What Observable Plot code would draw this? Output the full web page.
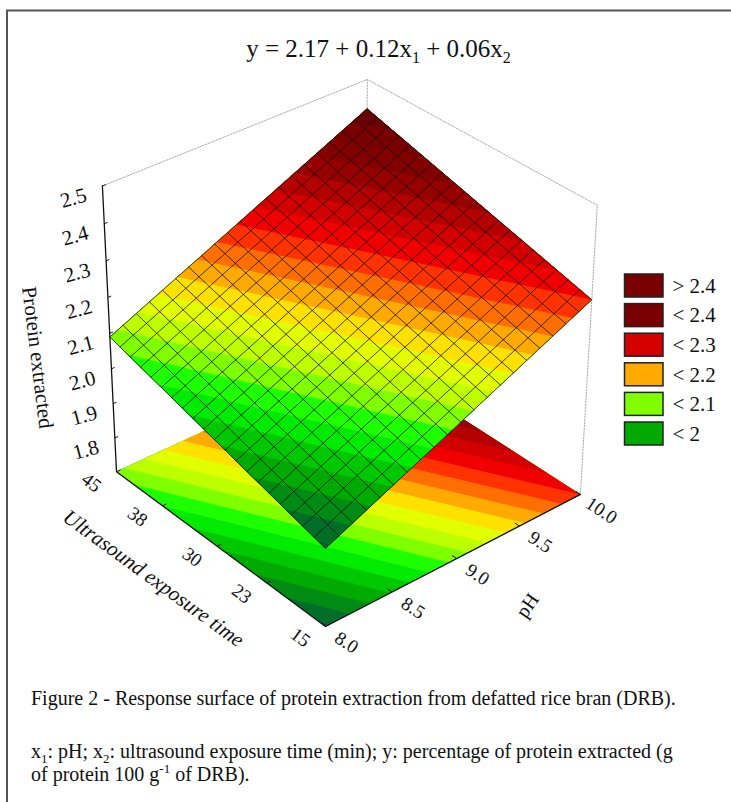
<!DOCTYPE html>
<html><head><meta charset="utf-8">
<script src="https://cdn.jsdelivr.net/npm/d3@7"></script>
<script src="https://cdn.jsdelivr.net/npm/@observablehq/plot@0.6"></script>
<style>
html,body{margin:0;padding:0;background:#fff;}
#page{position:relative;width:731px;height:802px;overflow:hidden;font-family:"Liberation Serif",serif;color:#111;}
#page svg{position:absolute;left:0;top:0;}
.t{position:absolute;white-space:nowrap;}
sub,sup{line-height:0;}
</style></head><body>
<div id="page">
<div class="t" style="left:0;width:757px;text-align:center;top:35px;font-size:25px;">y = 2.17 + 0.12x<sub style="font-size:16px">1</sub> + 0.06x<sub style="font-size:16px">2</sub></div>
<div class="t" style="left:31px;top:687px;font-size:20px;">Figure 2 - Response surface of protein extraction from defatted rice bran (DRB).</div>
<div class="t" style="left:31px;top:740px;font-size:20px;">x<sub style="font-size:13px">1</sub>: pH; x<sub style="font-size:13px">2</sub>: ultrasound exposure time (min); y: percentage of protein extracted (g</div>
<div class="t" style="left:31px;top:763px;font-size:20px;">of protein 100 g<sup style="font-size:13px">-1</sup> of DRB).</div>
</div>
<script>
// ---- values ----
const phTicks = [8.0, 8.5, 9.0, 9.5, 10.0];
const timeTicks = [15, 23, 30, 38, 45];
const zTicks = [1.8, 1.9, 2.0, 2.1, 2.2, 2.3, 2.4, 2.5];
const zRange = [1.7, 2.5];
const zAtPhLow = [1.92, 2.09];   // surface height at pH 8, for 15 and 45 min
const zAtPhHigh = [2.25, 2.42];  // surface height at pH 10, for 15 and 45 min
const meshCells = 20;
const bandLower = [1.925,1.95,1.975,2.0,2.025,2.05,2.075,2.1,2.125,2.15,2.175,2.2,2.225,2.25,2.275,2.3,2.325,2.35,2.375,2.4];
const bandColors = ["#005a3c","#006e28","#008c14","#00aa00","#00c800","#00eb00","#1eff00","#80ff00","#beff00","#e1ff00","#ffe100","#ffaa00","#ff6e00","#ff3200","#f00000","#d20000","#b40000","#960000","#820000","#780000","#690000"];
const legendLabels = ["> 2.4","< 2.4","< 2.3","< 2.2","< 2.1","< 2"];
const legendColors = ["#780000","#780000","#d20000","#ffaa00","#80ff00","#00aa00"];

// ---- perspective camera of the box ----
const cam = {o:[325,626], a:[289.2,-102.9], b:[-200.1,-118.7], c:[-22,-320], s:0.0591, t:0.0766, r:-0.0668};
const project = (u,v,w) => {
  const d = 1 + cam.s*u + cam.t*v + cam.r*w;
  return {x:(cam.o[0]+u*cam.a[0]+v*cam.b[0]+w*cam.c[0])/d, y:(cam.o[1]+u*cam.a[1]+v*cam.b[1]+w*cam.c[1])/d};
};
const uOf = ph => (ph-phTicks[0])/(phTicks[4]-phTicks[0]);
const vOf = t => (t-timeTicks[0])/(timeTicks[4]-timeTicks[0]);
const wOf = z => (z-zRange[0])/(zRange[1]-zRange[0]);
const zOf = (u,v) => (1-u)*((1-v)*zAtPhLow[0]+v*zAtPhLow[1]) + u*((1-v)*zAtPhHigh[0]+v*zAtPhHigh[1]);

// region of the unit square where the surface is above a level
function above(level){
  const quad = [[0,0],[1,0],[1,1],[0,1]], out = [];
  quad.forEach((p,i)=>{
    const q = quad[(i+1)%4], zp = zOf(...p)-level, zq = zOf(...q)-level;
    if (zp>=0) out.push(p);
    if ((zp>=0)!==(zq>=0)){ const f = zp/(zp-zq); out.push([p[0]+f*(q[0]-p[0]), p[1]+f*(q[1]-p[1])]); }
  });
  return out;
}
const floorPts = [], surfPts = [];
[-Infinity,...bandLower].forEach((lv,i)=>{
  const poly = above(lv);
  poly.forEach(([u,v])=>{
    floorPts.push({...project(u,v,0), id:i, color:bandColors[i]});
    surfPts.push({...project(u,v,wOf(zOf(u,v))), id:i, color:bandColors[i]});
  });
});
const mesh = [];
for (let i=0;i<=meshCells;i++){
  const f=i/meshCells;
  [[f,0],[f,1]].forEach(([u,v])=>mesh.push({...project(u,v,wOf(zOf(u,v))), id:"u"+i}));
  [[0,f],[1,f]].forEach(([u,v])=>mesh.push({...project(u,v,wOf(zOf(u,v))), id:"v"+i}));
}
const wirePath = (id,...pts)=>pts.map(p=>({...project(...p),id}));
const dotted = [...wirePath("top",[0,1,1],[1,1,1],[1,0,1],[1,0,0]), ...wirePath("back",[1,1,1],[1,1,0])];
const solid = [...wirePath("axes",[0,1,1],[0,1,0],[0,0,0],[1,0,0])];
const tick = (p,q)=>{const A=project(...p),B=project(...q);return {x1:A.x,y1:A.y,x2:B.x,y2:B.y};};
const ticks = [
  ...zTicks.map(z=>tick([0,1,wOf(z)],[0.012,1,wOf(z)])),
  ...timeTicks.map(t=>tick([0,vOf(t),0],[0.015,vOf(t),0])),
  ...phTicks.map(p=>tick([uOf(p),0,0],[uOf(p),0.02,0]))
];
const zLab = zTicks.map(z=>({...project(0,1,wOf(z)),label:z.toFixed(1)}));
const tLab = timeTicks.map(t=>({...project(0,vOf(t),0),label:String(t)}));
const pLab = phTicks.map(p=>({...project(uOf(p),0,0),label:p.toFixed(1)}));

const legendRows = legendLabels.map((label,i)=>({label,color:legendColors[i],row:i}));
const legendY = i => 285.5 + i*29.6;
const W = 731, H = 660;
const black = "#111";
const plot = Plot.plot({
  width:W, height:H, margin:0,
  x:{domain:[0,W], range:[0,W], axis:null},
  y:{domain:[0,H], range:[0,H], axis:null},
  color:{type:"identity"},
  style:{background:"transparent"},
  marks:[
    Plot.line(floorPts,{x:"x",y:"y",z:"id",fill:"color",stroke:"none",curve:"linear-closed"}),
    Plot.line(dotted,{x:"x",y:"y",z:"id",stroke:"#aaa",strokeWidth:1,strokeDasharray:"1.5,1.5"}),
    Plot.line(solid,{x:"x",y:"y",z:"id",stroke:black,strokeWidth:1.3}),
    Plot.link(ticks,{x1:"x1",y1:"y1",x2:"x2",y2:"y2",stroke:black,strokeWidth:1}),
    Plot.line(surfPts,{x:"x",y:"y",z:"id",fill:"color",stroke:"none",curve:"linear-closed"}),
    Plot.line(mesh,{x:"x",y:"y",z:"id",stroke:"#111",strokeWidth:0.9,strokeOpacity:0.85}),
    Plot.text(zLab,{x:"x",y:"y",text:"label",dx:-29,dy:12,rotate:-15,fontSize:21,fontFamily:"Liberation Serif",fill:black}),
    Plot.text(tLab,{x:"x",y:"y",text:"label",dx:-25,dy:11,rotate:37,fontSize:19,fontFamily:"Liberation Serif",fill:black}),
    Plot.text(pLab,{x:"x",y:"y",text:"label",dx:21,dy:16,rotate:33,fontSize:19,fontFamily:"Liberation Serif",fill:black}),
    Plot.text(["Protein extracted"],{x:()=>37,y:()=>357,text:d=>d,rotate:83,fontSize:21,fontFamily:"Liberation Serif",fill:black}),
    Plot.text(["Ultrasound exposure time"],{x:()=>153,y:()=>578,text:d=>d,rotate:36,fontSize:21,fontFamily:"Liberation Serif",fontStyle:"italic",fill:black}),
    Plot.text(["pH"],{x:()=>527,y:()=>605,text:d=>d,rotate:-55,fontSize:20,fontFamily:"Liberation Serif",fill:black}),
    Plot.rect(legendRows,{x1:()=>624.5,x2:()=>663,y1:d=>legendY(d.row)-11.5,y2:d=>legendY(d.row)+11.5,fill:"color",stroke:"#222",strokeWidth:1.5}),
    Plot.text(legendRows,{x:()=>672,y:d=>legendY(d.row),text:"label",textAnchor:"start",fontSize:21,fontFamily:"Liberation Serif",fill:black}),
    Plot.ruleX([6.5],{y1:10,y2:H,stroke:"#555",strokeWidth:2}),
    Plot.ruleY([10],{x1:6,x2:W,stroke:"#555",strokeWidth:2})
  ]
});
document.getElementById("page").prepend(plot);
// frame line continues below the chart
const bar=document.createElement("div");
bar.style.cssText="position:absolute;left:5.5px;top:660px;width:2px;height:142px;background:#555";
document.getElementById("page").appendChild(bar);
</script>
</body></html>
